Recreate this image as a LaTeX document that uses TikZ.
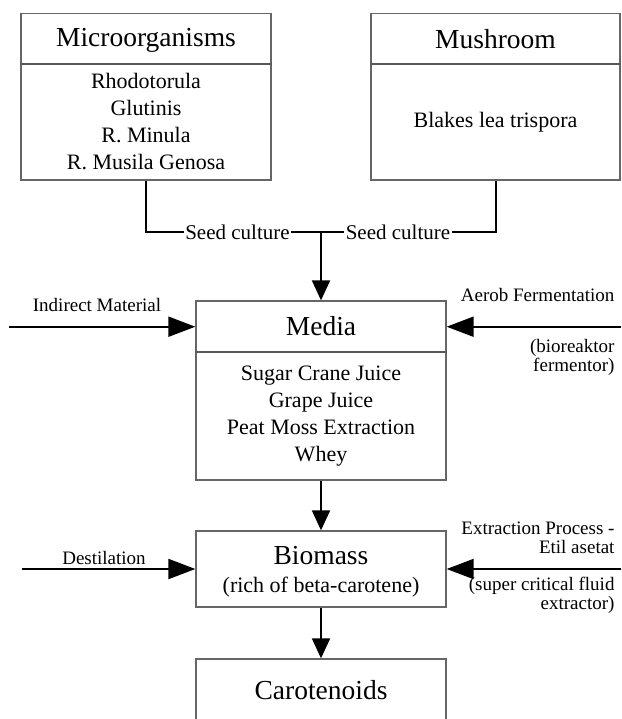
\documentclass[tikz,border=0pt]{standalone}
\usepackage{fontspec}
\setmainfont{Liberation Serif}
\usetikzlibrary{arrows.meta, positioning}

\begin{document}
\begin{tikzpicture}[x=1pt, y=-1pt,
  box/.style={draw=black!60, line width=1.3pt, minimum width=250pt, inner sep=0pt},
  div/.style={draw=black!65, line width=1.3pt},
  head/.style={font=\fontsize{27.5}{30}\selectfont},
  body/.style={font=\fontsize{22}{27}\selectfont, align=center},
  side/.style={font=\fontsize{19}{19}\selectfont, align=right},
  seed/.style={font=\fontsize{21}{24}\selectfont, inner sep=1.5pt},
  wire/.style={line width=2pt},
  flow/.style={wire, -{Triangle[length=20pt,width=18pt]}},
  feed/.style={wire, -{Triangle[length=27pt,width=20pt]}}]

  \clip (0,0) rectangle (621,719);

  % boxes
  \node[box, minimum height=166.7pt] (micro) at (146,96.6) {};
  \node[box, minimum width=249pt, minimum height=166.7pt] (mush) at (495.5,96.6) {};
  \node[box, minimum height=179pt] (media) at (321,390.5) {};
  \node[box, minimum height=76pt] (biomass) at (321,569) {};
  \node[box, minimum height=80pt] (carot) at (321,699) {};

  \draw[div] (micro.west |- 0,64) -- (micro.east |- 0,64);
  \draw[div] (mush.west |- 0,64) -- (mush.east |- 0,64);
  \draw[div] (media.west |- 0,352) -- (media.east |- 0,352);

  % texts
  \node[head] (microT) at (146,40) {Microorganisms};
  \node[body] (microB) at (146,122) {Rhodotorula\\Glutinis\\R. Minula\\R. Musila Genosa};
  \node[head] (mushT) at (495.5,39) {Mushroom};
  \node[body] (mushB) at (495.5,122) {Blakes lea trispora};
  \node[head] (mediaT) at (321,326.5) {Media};
  \node[body] (mediaB) at (321,416) {Sugar Crane Juice\\Grape Juice\\Peat Moss Extraction\\Whey};
  \node[head] (bioT) at (321,556) {Biomass};
  \node[body] (bioB) at (321,587) {(rich of beta-carotene)};
  \node[head] (carotT) at (321,690) {Carotenoids};

  % seed culture
  \node[seed] (seedL) at (237.5,232) {Seed culture};
  \node[seed] (seedR) at (398,232) {Seed culture};
  \coordinate (join) at (321,232);
  \draw[wire] (micro.south) |- (seedL.west);
  \draw[wire] (seedL.east) -- (seedR.west);
  \draw[wire] (seedR.east) -| (mush.south);
  \draw[flow] (join) -- (media.north);

  % media inputs
  \coordinate (inMat) at (8.7,326.7);
  \draw[feed] (inMat) -- (inMat -| media.west);
  \node[side] (inMatL) at (97,305) {Indirect Material};
  \coordinate (aerob) at (621,326.7);
  \draw[feed] (aerob) -- (aerob -| media.east);
  \node[side, anchor=east] (aerobA) at (618,295) {Aerob Fermentation};
  \node[side, anchor=east] (aerobB) at (618,357.5) {(bioreaktor\\fermentor)};

  % biomass inputs
  \draw[flow] (media.south) -- (biomass.north);
  \coordinate (dest) at (21.8,569);
  \draw[feed] (dest) -- (dest -| biomass.west);
  \node[side] (destL) at (104,557.7) {Destilation};
  \coordinate (extr) at (621,569);
  \draw[feed] (extr) -- (extr -| biomass.east);
  \node[side, anchor=east] (extrA) at (618,538) {Extraction Process -\\Etil asetat};
  \node[side, anchor=east] (extrB) at (618,595.5) {(super critical fluid\\extractor)};
  \draw[flow] (biomass.south) -- (carot.north);
\end{tikzpicture}
\end{document}
